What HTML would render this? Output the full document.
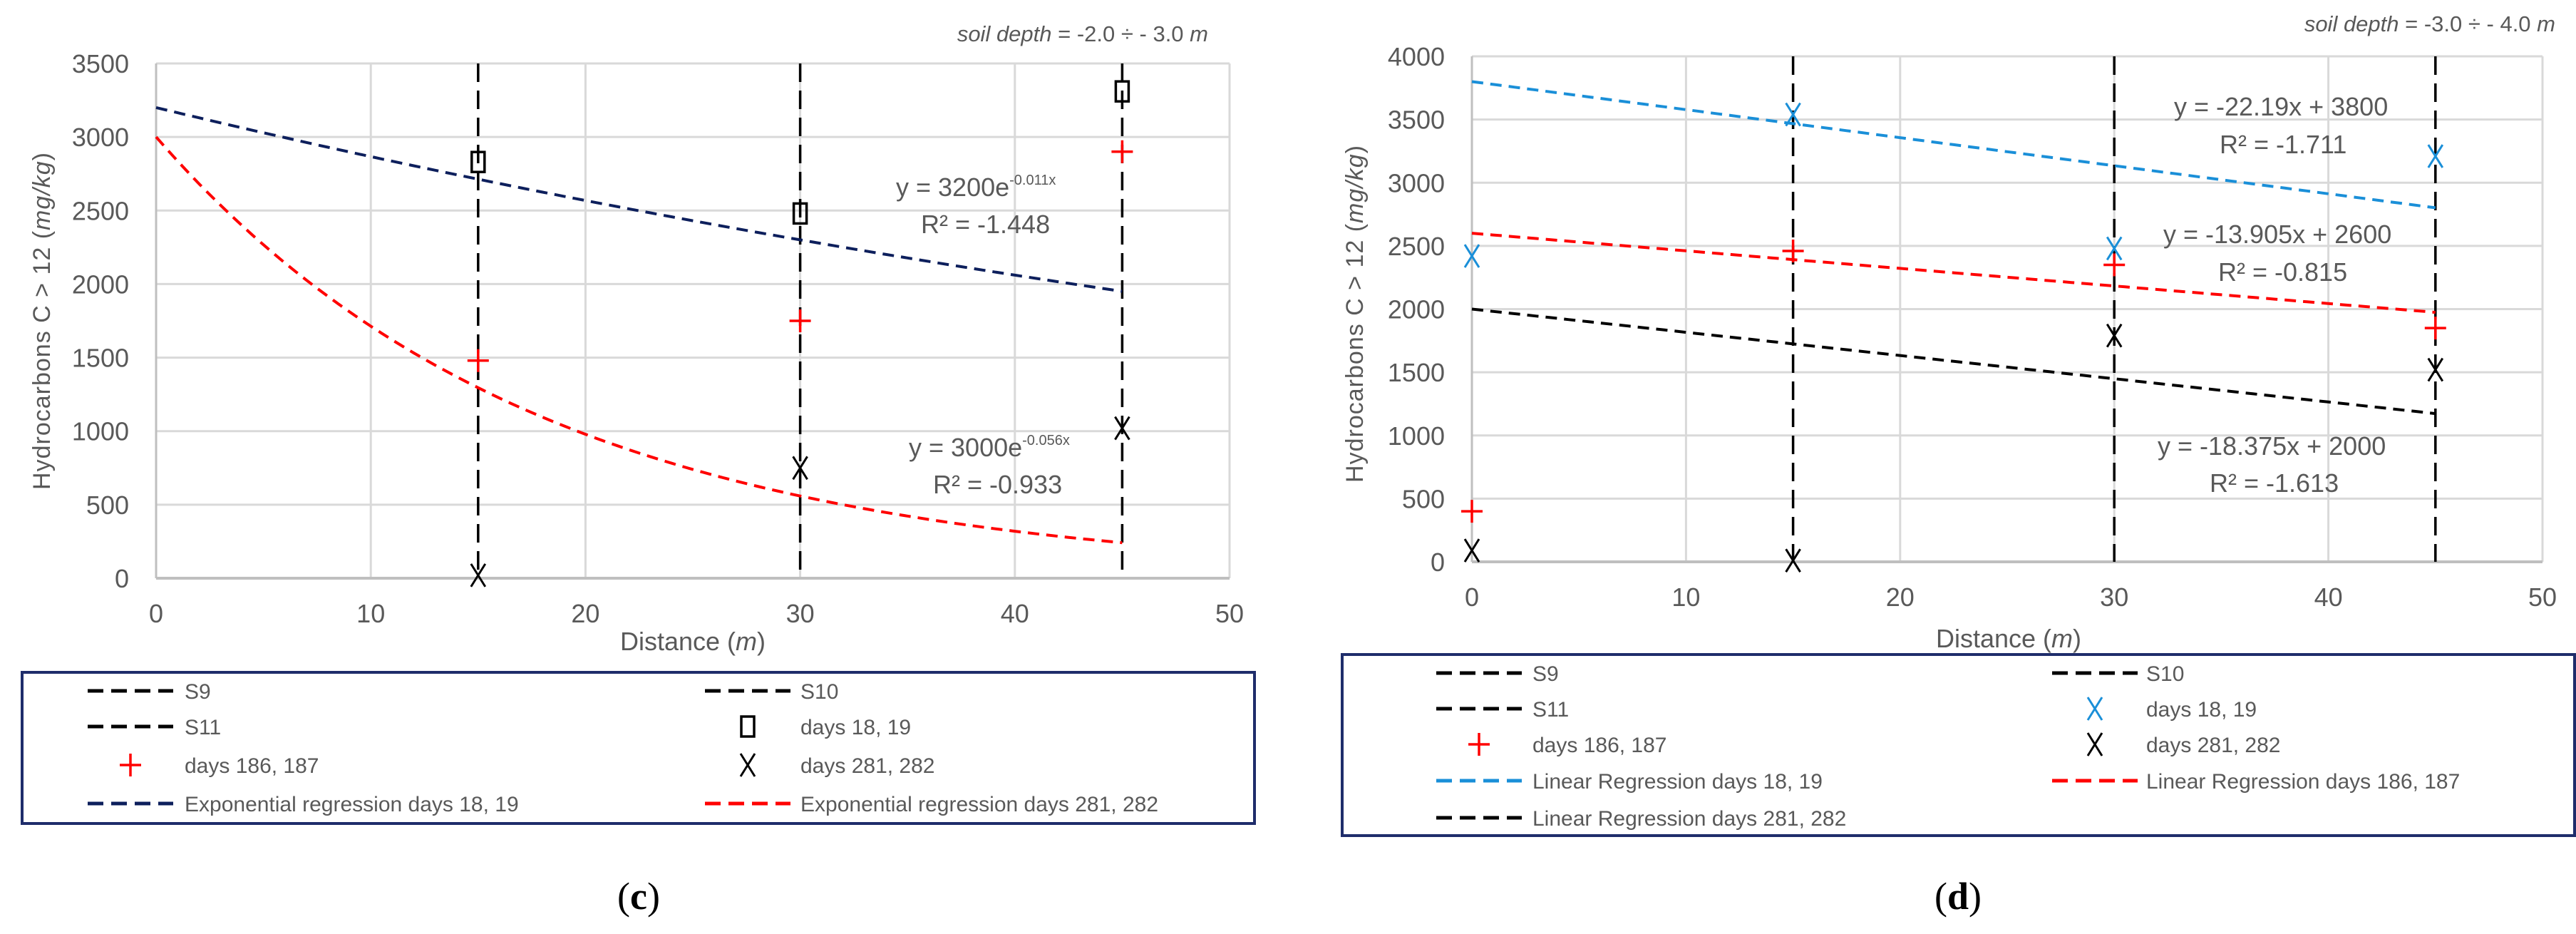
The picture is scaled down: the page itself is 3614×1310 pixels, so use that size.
<!DOCTYPE html>
<html><head><meta charset="utf-8"><style>
html,body{margin:0;padding:0;background:#fff;}
svg{display:block;font-family:"Liberation Sans",sans-serif;}
</style></head><body>
<svg id="fig" width="3614" height="1310" viewBox="0 0 3614 1310" xmlns="http://www.w3.org/2000/svg">
<g id="chartC"></g>
<g id="chartD"></g>
<text x="896" y="1275" font-family="Liberation Serif,serif" font-size="54" text-anchor="middle" fill="#000">(<tspan font-weight="bold">c</tspan>)</text>
<text x="2747" y="1275" font-family="Liberation Serif,serif" font-size="54" text-anchor="middle" fill="#000">(<tspan font-weight="bold">d</tspan>)</text>
</svg>
<script>
// ---- Chart C data ----
const cXTicks = [0,10,20,30,40,50];
const cYTicks = [0,500,1000,1500,2000,2500,3000,3500];
const cDist = [15,30,45];
const cDays18 = [2830,2480,3310];
const cDays186 = [1480,1750,2900];
const cDays281 = [20,750,1020];
const cExpBlue = [3200,-0.011];
const cExpRed = [3000,-0.056];
const cWells = [15,30,45];
// ---- Chart D data ----
const dXTicks = [0,10,20,30,40,50];
const dYTicks = [0,500,1000,1500,2000,2500,3000,3500,4000];
const dDist = [0,15,30,45];
const dDays18 = [2420,3540,2480,3210];
const dDays186 = [400,2460,2350,1850];
const dDays281 = [90,10,1790,1520];
const dLinBlue = [-22.19,3800];
const dLinRed = [-13.905,2600];
const dLinBlack = [-18.375,2000];
const dWells = [15,30,45];

const NS="http://www.w3.org/2000/svg";
function mk(parent,tag,attrs,text){const e=document.createElementNS(NS,tag);for(const k in attrs)e.setAttribute(k,attrs[k]);if(text!==undefined)e.textContent=text;parent.appendChild(e);return e;}
const TXT="#595959";

function drawAxes(g,L,R,T,B,xmax,ymax,xt,yt){
  const sx=v=>L+(R-L)*v/xmax, sy=v=>B-(B-T)*v/ymax;
  xt.forEach(t=>{const l=mk(g,'line',{x1:sx(t),x2:sx(t),y1:T,y2:B,stroke:'#d9d9d9','stroke-width':3});
    
    
    const tx=mk(g,'text',{x:sx(t),y:B+62,'font-size':36,fill:TXT,'text-anchor':'middle'},t);
    
    });
  yt.forEach(t=>{const l=mk(g,'line',{x1:L,x2:R,y1:sy(t),y2:sy(t),stroke:'#d9d9d9','stroke-width':3});
    
    
    const tx=mk(g,'text',{x:L-38,y:sy(t)+13,'font-size':36,fill:TXT,'text-anchor':'end'},t);
    
    });
  return [sx,sy];
}
function vlines(g,wells,sx,T,B){wells.forEach(w=>{const l=mk(g,'line',{x1:sx(w),x2:sx(w),y1:T,y2:B,stroke:'#000','stroke-width':3.5,'stroke-dasharray':'26 12'});
  
  });}
function curve(g,f,x0,x1,sx,sy,color,name){let d='';for(let i=0;i<=90;i++){const x=x0+(x1-x0)*i/90;d+=(i?'L':'M')+sx(x).toFixed(1)+' '+sy(f(x)).toFixed(1);}
  const p=mk(g,'path',{d:d,fill:'none',stroke:color,'stroke-width':4,'stroke-dasharray':'16 10'});
  
  }
function marker(g,type,x,y,color,name){let e;
  if(type==='sq'){e=mk(g,'rect',{x:x-9,y:y-14,width:18,height:28,fill:'none',stroke:color,'stroke-width':3.5});}
  else if(type==='plus'){e=mk(g,'path',{d:`M${x-15} ${y}H${x+15}M${x} ${y-16}V${y+16}`,stroke:color,'stroke-width':3.5,fill:'none'});}
  else {e=mk(g,'path',{d:`M${x-10} ${y-16}L${x+10} ${y+16}M${x+10} ${y-16}L${x-10} ${y+16}`,stroke:color,'stroke-width':3,fill:'none'});}
  
  }
function label(g,x,y,txt,size,name,extra){const t=mk(g,'text',Object.assign({x:x,y:y,'font-size':size,fill:TXT},extra||{}));t.innerHTML=txt;
  
  return t;}
function legend(g,x,y,w,h,rows,name){
  const r=mk(g,'rect',{x:x,y:y,width:w,height:h,fill:'#fff',stroke:'#1f2d6b','stroke-width':4});
  
  
  rows.forEach(it=>{
    const e=mk(g,'g',{});
    
    
    if(it.kind==='line'){mk(e,'line',{x1:it.lx,x2:it.lx+120,y1:it.y,y2:it.y,stroke:it.c,'stroke-width':5,'stroke-dasharray':'22 11'});}
    else marker(e,it.kind,it.lx+60,it.y,it.c,'legend-marker');
    const t=mk(e,'text',{x:it.tx,y:it.y+11,'font-size':30,fill:TXT},it.t);
  });
}

// ---- Chart C ----
(function(){
  const g=document.getElementById('chartC');
  const L=219,R=1725,T=89,B=811;
  const [sx,sy]=drawAxes(g,L,R,T,B,50,3500,cXTicks,cYTicks);
  mk(g,'line',{x1:L,x2:L,y1:T,y2:B,stroke:'#bfbfbf','stroke-width':3});
  mk(g,'line',{x1:L,x2:R,y1:B,y2:B,stroke:'#bfbfbf','stroke-width':4});
  vlines(g,cWells,sx,T,B);
  curve(g,x=>cExpBlue[0]*Math.exp(cExpBlue[1]*x),0,45,sx,sy,'#0d1f5c','exp-regression-days-18-19');
  curve(g,x=>cExpRed[0]*Math.exp(cExpRed[1]*x),0,45,sx,sy,'#ff0000','exp-regression-days-281-282');
  cDist.forEach((d,i)=>{marker(g,'sq',sx(d),sy(cDays18[i]),'#000','point-days-18-19');
    marker(g,'plus',sx(d),sy(cDays186[i]),'#ff0000','point-days-186-187');
    marker(g,'x',sx(d),sy(cDays281[i]),'#000','point-days-281-282');});
  label(g,1257,275,'y = 3200e<tspan font-size="20" dy="-16">-0.011x</tspan>',36,'equation-exp-blue');
  label(g,1292,327,'R² = -1.448',36,'r2-exp-blue');
  label(g,1275,640,'y = 3000e<tspan font-size="20" dy="-16">-0.056x</tspan>',36,'equation-exp-red');
  label(g,1309,692,'R² = -0.933',36,'r2-exp-red');
  label(g,1695,58,'<tspan font-style="italic">soil depth</tspan> = -2.0 ÷ - 3.0 <tspan font-style="italic">m</tspan>',31,'soil-depth-note',{'text-anchor':'end'});
  label(g,972,912,'Distance  (<tspan font-style="italic">m</tspan>)',36,'x-axis-title',{'text-anchor':'middle'});
  label(g,0,0,'Hydrocarbons  C &gt; 12 (<tspan font-style="italic">mg/kg</tspan>)',34,'y-axis-title',{'text-anchor':'middle',transform:'translate(70,450) rotate(-90)','letter-spacing':'1'});
  const c1=123,c2=989,t1=259,t2=1123;
  legend(g,31,943,1729,212,[
    {kind:'line',lx:c1,tx:t1,y:969,c:'#000',t:'S9'},{kind:'line',lx:c2,tx:t2,y:969,c:'#000',t:'S10'},
    {kind:'line',lx:c1,tx:t1,y:1019,c:'#000',t:'S11'},{kind:'sq',lx:c2,tx:t2,y:1019,c:'#000',t:'days 18, 19'},
    {kind:'plus',lx:c1,tx:t1,y:1073,c:'#ff0000',t:'days 186, 187'},{kind:'x',lx:c2,tx:t2,y:1073,c:'#000',t:'days 281, 282'},
    {kind:'line',lx:c1,tx:t1,y:1127,c:'#0d1f5c',t:'Exponential regression days 18, 19'},{kind:'line',lx:c2,tx:t2,y:1127,c:'#ff0000',t:'Exponential regression days 281, 282'}
  ],'legend-c');
})();

// ---- Chart D ----
(function(){
  const g=document.getElementById('chartD');
  const L=2065,R=3567,T=79,B=788;
  const [sx,sy]=drawAxes(g,L,R,T,B,50,4000,dXTicks,dYTicks);
  mk(g,'line',{x1:L,x2:L,y1:T,y2:B,stroke:'#bfbfbf','stroke-width':3});
  mk(g,'line',{x1:L,x2:R,y1:B,y2:B,stroke:'#bfbfbf','stroke-width':4});
  vlines(g,dWells,sx,T,B);
  curve(g,x=>dLinBlue[0]*x+dLinBlue[1],0,45,sx,sy,'#1a8fd8','linear-regression-days-18-19');
  curve(g,x=>dLinRed[0]*x+dLinRed[1],0,45,sx,sy,'#ff0000','linear-regression-days-186-187');
  curve(g,x=>dLinBlack[0]*x+dLinBlack[1],0,45,sx,sy,'#000','linear-regression-days-281-282');
  dDist.forEach((d,i)=>{marker(g,'x',sx(d),sy(dDays18[i]),'#1a8fd8','point-days-18-19');
    marker(g,'plus',sx(d),sy(dDays186[i]),'#ff0000','point-days-186-187');
    marker(g,'x',sx(d),sy(dDays281[i]),'#000','point-days-281-282');});
  label(g,3050,162,'y = -22.19x + 3800',36,'equation-lin-blue');
  label(g,3114,215,'R² = -1.711',36,'r2-lin-blue');
  label(g,3035,341,'y = -13.905x + 2600',36,'equation-lin-red');
  label(g,3112,394,'R² = -0.815',36,'r2-lin-red');
  label(g,3027,638,'y = -18.375x + 2000',36,'equation-lin-black');
  label(g,3100,690,'R² = -1.613',36,'r2-lin-black');
  label(g,3585,44,'<tspan font-style="italic">soil depth</tspan> = -3.0 ÷ - 4.0 <tspan font-style="italic">m</tspan>',31,'soil-depth-note',{'text-anchor':'end'});
  label(g,2818,908,'Distance  (<tspan font-style="italic">m</tspan>)',36,'x-axis-title',{'text-anchor':'middle'});
  label(g,0,0,'Hydrocarbons  C &gt; 12 (<tspan font-style="italic">mg/kg</tspan>)',34,'y-axis-title',{'text-anchor':'middle',transform:'translate(1912,440) rotate(-90)','letter-spacing':'1'});
  const c1=2015,c2=2879,t1=2150,t2=3011;
  legend(g,1883,918,1729,254,[
    {kind:'line',lx:c1,tx:t1,y:944,c:'#000',t:'S9'},{kind:'line',lx:c2,tx:t2,y:944,c:'#000',t:'S10'},
    {kind:'line',lx:c1,tx:t1,y:994,c:'#000',t:'S11'},{kind:'x',lx:c2,tx:t2,y:994,c:'#1a8fd8',t:'days 18, 19'},
    {kind:'plus',lx:c1,tx:t1,y:1044,c:'#ff0000',t:'days 186, 187'},{kind:'x',lx:c2,tx:t2,y:1044,c:'#000',t:'days 281, 282'},
    {kind:'line',lx:c1,tx:t1,y:1095,c:'#1a8fd8',t:'Linear Regression days 18, 19'},{kind:'line',lx:c2,tx:t2,y:1095,c:'#ff0000',t:'Linear Regression days 186, 187'},
    {kind:'line',lx:c1,tx:t1,y:1147,c:'#000',t:'Linear Regression days 281, 282'}
  ],'legend-d');
})();
</script>
</body></html>
